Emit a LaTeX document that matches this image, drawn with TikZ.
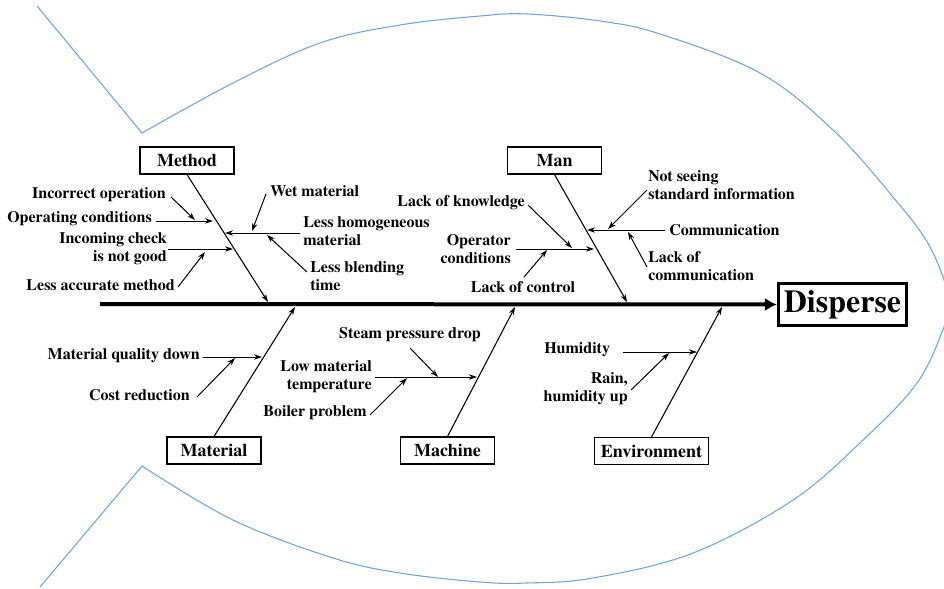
\documentclass[tikz,border=0pt]{standalone}
\usepackage{fontspec}
\newfontfamily\diagfont{TeX Gyre Termes}
\usetikzlibrary{arrows.meta}
\definecolor{fishblue}{RGB}{110,165,220}
\begin{document}
\begin{tikzpicture}[x=0.75pt,y=-0.75pt,
  lbl/.style={font=\diagfont\fontsize{12}{13.5}\selectfont\bfseries, inner sep=0pt},
  lblr/.style={lbl, align=right, anchor=east},
  lbll/.style={lbl, align=left, anchor=west},
  cat/.style={draw, line width=0.8pt, minimum height=20.25pt, inner sep=0pt,
    font=\diagfont\fontsize{13.5}{15}\selectfont\bfseries},
  effect/.style={draw, line width=2.4pt, minimum width=96pt, minimum height=32pt,
    inner sep=0pt, font=\diagfont\fontsize{24}{28}\selectfont\bfseries},
  bone/.style={line width=0.8pt, -{Stealth[length=6pt,width=4pt]}},
  sub/.style={line width=0.75pt, -{Stealth[length=6pt,width=4pt]}},
  spine/.style={line width=3pt, -{Latex[length=9pt,width=10pt]}},
  outline/.style={draw=fishblue, line width=0.8pt}]

\useasboundingbox (0,0) rectangle (944,588);
\clip (0,0) rectangle (944,588);

% fish outline: tail and body
\draw[outline] (37,6) -- (142,133);
\draw[outline] (142,466) -- (40,587);
\draw[outline] plot[smooth, tension=0.6] coordinates {
  (142,133) (233,83) (320,43) (400,25) (480,16) (527,14) (600,21) (660,34)
  (760,73) (833,130) (893,197) (930,247) (950,302) (944,327) (917,383)
  (863,440) (793,500) (693,553) (593,578) (527,583) (480,582) (400,573)
  (333,558) (233,520) (142,466)};

% effect and spine
\node[effect] (disp) at (842.5,304.5) {Disperse};
\coordinate (tail) at (100,304);
\draw[spine] (tail) -- (disp.west);

% category boxes
\node[cat, minimum width=70.5pt] (meth) at (187,160.5) {Method};
\node[cat, minimum width=70pt]   (man)  at (554.5,160.5) {Man};
\node[cat, minimum width=70.5pt] (mat)  at (214,450.5) {Material};
\node[cat, minimum width=71pt]   (mach) at (447.5,450.5) {Machine};
\node[cat, minimum width=86pt]   (env)  at (651.5,451) {Environment};

% joints on the spine
\coordinate (jmeth) at (268,302);
\coordinate (jman)  at (627,302);
\coordinate (jmat)  at (295,307);
\coordinate (jmach) at (515,307);
\coordinate (jenv)  at (722,307);

\draw[bone] (meth.south) -- (jmeth);
\draw[bone] (man.south)  -- (jman);
\draw[bone] (mat.north)  -- (jmat);
\draw[bone] (mach.north) -- (jmach);
\draw[bone] (env.north)  -- (jenv);

% ---- Method ----
\node[lblr] (t-inc)  at (166,195) {Incorrect operation};
\node[lblr] (t-opc)  at (152,219) {Operating conditions};
\node[lblr] (t-chk)  at (167,249) {Incoming check\\is not good};
\node[lblr] (t-acc)  at (175,285) {Less accurate method};
\node[lbll] (t-wet)  at (270,191) {Wet material};
\node[lbll] (t-hom)  at (303,231.5) {Less homogeneous\\material};
\node[lbll] (t-bld)  at (310,276.5) {Less blending\\time};

\coordinate (opc0) at (156,221); \coordinate (opc1) at (213,221);
\coordinate (inc0) at (171,197); \coordinate (inc1) at (195,220);
\coordinate (chk0) at (168,249); \coordinate (chk1) at (233,249);
\coordinate (acc0) at (178,287); \coordinate (acc1) at (205,252);
\coordinate (hom0) at (300,233); \coordinate (hom1) at (225,233);
\coordinate (wet0) at (266,194); \coordinate (wet1) at (252,231);
\coordinate (bld0) at (307,272); \coordinate (bld1) at (267,235);
\draw[sub] (opc0) -- (opc1);
\draw[sub] (inc0) -- (inc1);
\draw[sub] (chk0) -- (chk1);
\draw[sub] (acc0) -- (acc1);
\draw[sub] (hom0) -- (hom1);
\draw[sub] (wet0) -- (wet1);
\draw[sub] (bld0) -- (bld1);

% ---- Man ----
\node[lblr] (t-knw) at (525,203) {Lack of knowledge};
\node[lblr] (t-opr) at (511,249) {Operator\\conditions};
\node[lbl]  (t-ctl) at (523,287) {Lack of control};
\node[lbll] (t-std) at (648,185.5) {Not seeing\\standard information};
\node[lbll] (t-com) at (669,230) {Communication};
\node[lbll] (t-lcm) at (648,266.5) {Lack of\\communication};

\coordinate (opr0) at (516,249); \coordinate (opr1) at (594,249);
\coordinate (knw0) at (528,205); \coordinate (knw1) at (572,248);
\coordinate (ctl0) at (524,277); \coordinate (ctl1) at (547,250);
\coordinate (com0) at (665,230); \coordinate (com1) at (587,230);
\coordinate (std0) at (647,190); \coordinate (std1) at (608,229);
\coordinate (lcm0) at (647,267); \coordinate (lcm1) at (628,232);
\draw[sub] (opr0) -- (opr1);
\draw[sub] (knw0) -- (knw1);
\draw[sub] (ctl0) -- (ctl1);
\draw[sub] (com0) -- (com1);
\draw[sub] (std0) -- (std1);
\draw[sub] (lcm0) -- (lcm1);

% ---- Material ----
\node[lblr] (t-qty) at (200,356) {Material quality down};
\node[lblr] (t-cst) at (190,395) {Cost reduction};
\coordinate (qty0) at (203,357); \coordinate (qty1) at (262,357);
\coordinate (cst0) at (197,397); \coordinate (cst1) at (235,358);
\draw[sub] (qty0) -- (qty1);
\draw[sub] (cst0) -- (cst1);

% ---- Machine ----
\node[lbl]  (t-stm) at (410,335) {Steam pressure drop};
\node[lblr] (t-tmp) at (372,377) {Low material\\temperature};
\node[lblr] (t-blr) at (367,413) {Boiler problem};
\coordinate (tmp0) at (375,377); \coordinate (tmp1) at (477,377);
\coordinate (stm0) at (410,348); \coordinate (stm1) at (438,377);
\coordinate (blr0) at (370,415); \coordinate (blr1) at (407,378);
\draw[sub] (tmp0) -- (tmp1);
\draw[sub] (stm0) -- (stm1);
\draw[sub] (blr0) -- (blr1);

% ---- Environment ----
\node[lbll] (t-hum) at (544,350) {Humidity};
\node[lblr] (t-rain) at (628,388.5) {Rain,\\humidity up};
\coordinate (hum0) at (623,352); \coordinate (hum1) at (697,352);
\coordinate (rain0) at (631,390); \coordinate (rain1) at (669,353);
\draw[sub] (hum0) -- (hum1);
\draw[sub] (rain0) -- (rain1);

\end{tikzpicture}
\end{document}
